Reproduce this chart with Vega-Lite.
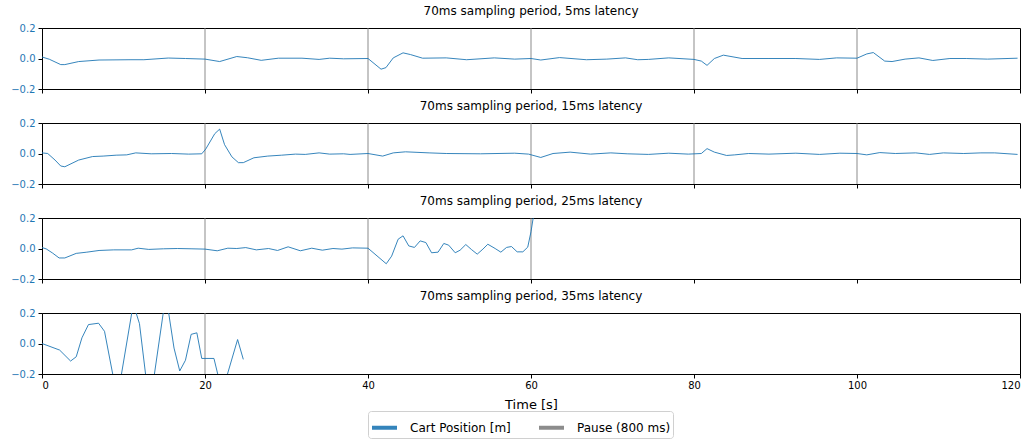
{
  "$schema": "https://vega.github.io/schema/vega-lite/v6.json",
  "padding": {"left": 10, "top": 4, "right": 13, "bottom": 0},
  "datasets": {
    "pos": [
      {"lat": "5ms", "t": 0, "y": 0.01}, {"lat": "5ms", "t": 0.9, "y": -0.005}, {"lat": "5ms", "t": 2.3, "y": -0.04}, {"lat": "5ms", "t": 2.8, "y": -0.04},
      {"lat": "5ms", "t": 4.5, "y": -0.02}, {"lat": "5ms", "t": 7, "y": -0.01}, {"lat": "5ms", "t": 10.8, "y": -0.008}, {"lat": "5ms", "t": 12.5, "y": -0.008},
      {"lat": "5ms", "t": 15.5, "y": 0.003}, {"lat": "5ms", "t": 17.6, "y": 0}, {"lat": "5ms", "t": 20, "y": -0.004}, {"lat": "5ms", "t": 21.8, "y": -0.02},
      {"lat": "5ms", "t": 23.9, "y": 0.013}, {"lat": "5ms", "t": 25.2, "y": 0.005}, {"lat": "5ms", "t": 26.9, "y": -0.012}, {"lat": "5ms", "t": 29, "y": 0.002},
      {"lat": "5ms", "t": 31.9, "y": 0.002}, {"lat": "5ms", "t": 34, "y": -0.006}, {"lat": "5ms", "t": 35.3, "y": 0.002}, {"lat": "5ms", "t": 37, "y": -0.002},
      {"lat": "5ms", "t": 40, "y": 0}, {"lat": "5ms", "t": 41.6, "y": -0.07}, {"lat": "5ms", "t": 42.2, "y": -0.06}, {"lat": "5ms", "t": 43.1, "y": 0.004},
      {"lat": "5ms", "t": 44.3, "y": 0.037}, {"lat": "5ms", "t": 45.2, "y": 0.026}, {"lat": "5ms", "t": 46.7, "y": 0.002}, {"lat": "5ms", "t": 49.6, "y": 0.004},
      {"lat": "5ms", "t": 52.1, "y": -0.008}, {"lat": "5ms", "t": 55.5, "y": 0.004}, {"lat": "5ms", "t": 58, "y": -0.004}, {"lat": "5ms", "t": 60, "y": 0},
      {"lat": "5ms", "t": 61.2, "y": -0.01}, {"lat": "5ms", "t": 63.5, "y": 0.006}, {"lat": "5ms", "t": 66.8, "y": -0.008}, {"lat": "5ms", "t": 69.3, "y": -0.004},
      {"lat": "5ms", "t": 71.6, "y": 0.004}, {"lat": "5ms", "t": 73.1, "y": -0.008}, {"lat": "5ms", "t": 74.4, "y": -0.006}, {"lat": "5ms", "t": 76.9, "y": 0.004},
      {"lat": "5ms", "t": 80, "y": -0.006}, {"lat": "5ms", "t": 80.9, "y": -0.017}, {"lat": "5ms", "t": 81.6, "y": -0.045}, {"lat": "5ms", "t": 82.5, "y": 0},
      {"lat": "5ms", "t": 83.6, "y": 0.022}, {"lat": "5ms", "t": 85.9, "y": 0}, {"lat": "5ms", "t": 89.2, "y": 0}, {"lat": "5ms", "t": 92.5, "y": 0},
      {"lat": "5ms", "t": 95.4, "y": -0.006}, {"lat": "5ms", "t": 97.5, "y": 0.004}, {"lat": "5ms", "t": 100, "y": 0.002}, {"lat": "5ms", "t": 101.2, "y": 0.03},
      {"lat": "5ms", "t": 102, "y": 0.039}, {"lat": "5ms", "t": 103.4, "y": -0.017}, {"lat": "5ms", "t": 104.3, "y": -0.02}, {"lat": "5ms", "t": 105.9, "y": -0.004},
      {"lat": "5ms", "t": 107.6, "y": 0.004}, {"lat": "5ms", "t": 109.3, "y": -0.013}, {"lat": "5ms", "t": 111.4, "y": 0}, {"lat": "5ms", "t": 113.4, "y": 0},
      {"lat": "5ms", "t": 116, "y": -0.004}, {"lat": "5ms", "t": 119.7, "y": 0.002},

      {"lat": "15ms", "t": 0, "y": 0.004}, {"lat": "15ms", "t": 0.7, "y": 0}, {"lat": "15ms", "t": 1.6, "y": -0.043}, {"lat": "15ms", "t": 2.3, "y": -0.082},
      {"lat": "15ms", "t": 2.8, "y": -0.087}, {"lat": "15ms", "t": 4.5, "y": -0.043}, {"lat": "15ms", "t": 6.2, "y": -0.02}, {"lat": "15ms", "t": 7.5, "y": -0.017},
      {"lat": "15ms", "t": 9.1, "y": -0.011}, {"lat": "15ms", "t": 10.4, "y": -0.009}, {"lat": "15ms", "t": 11.5, "y": 0.004}, {"lat": "15ms", "t": 13.4, "y": -0.002},
      {"lat": "15ms", "t": 15.9, "y": 0}, {"lat": "15ms", "t": 18, "y": -0.004}, {"lat": "15ms", "t": 19.6, "y": -0.002}, {"lat": "15ms", "t": 20.1, "y": 0.03},
      {"lat": "15ms", "t": 21.2, "y": 0.13}, {"lat": "15ms", "t": 21.8, "y": 0.16}, {"lat": "15ms", "t": 22.4, "y": 0.058}, {"lat": "15ms", "t": 23.3, "y": -0.022},
      {"lat": "15ms", "t": 24.1, "y": -0.06}, {"lat": "15ms", "t": 24.7, "y": -0.06}, {"lat": "15ms", "t": 26, "y": -0.028}, {"lat": "15ms", "t": 27.7, "y": -0.017},
      {"lat": "15ms", "t": 29.4, "y": -0.011}, {"lat": "15ms", "t": 31.1, "y": -0.004}, {"lat": "15ms", "t": 32.3, "y": -0.006}, {"lat": "15ms", "t": 34, "y": 0.004},
      {"lat": "15ms", "t": 35.3, "y": -0.004}, {"lat": "15ms", "t": 37, "y": -0.002}, {"lat": "15ms", "t": 37.8, "y": -0.006}, {"lat": "15ms", "t": 40, "y": 0},
      {"lat": "15ms", "t": 41.8, "y": -0.017}, {"lat": "15ms", "t": 43.1, "y": 0.004}, {"lat": "15ms", "t": 44.6, "y": 0.011}, {"lat": "15ms", "t": 47.5, "y": 0.004},
      {"lat": "15ms", "t": 49.6, "y": 0}, {"lat": "15ms", "t": 53.8, "y": -0.002}, {"lat": "15ms", "t": 58, "y": 0.002}, {"lat": "15ms", "t": 59.7, "y": -0.004},
      {"lat": "15ms", "t": 61.2, "y": -0.026}, {"lat": "15ms", "t": 62.7, "y": 0}, {"lat": "15ms", "t": 64.8, "y": 0.009}, {"lat": "15ms", "t": 67.3, "y": -0.004},
      {"lat": "15ms", "t": 69.8, "y": 0.004}, {"lat": "15ms", "t": 71.8, "y": -0.002}, {"lat": "15ms", "t": 74.4, "y": -0.006}, {"lat": "15ms", "t": 76.9, "y": 0.002},
      {"lat": "15ms", "t": 79.3, "y": -0.004}, {"lat": "15ms", "t": 80.9, "y": 0}, {"lat": "15ms", "t": 81.6, "y": 0.032}, {"lat": "15ms", "t": 82.5, "y": 0.009},
      {"lat": "15ms", "t": 84, "y": -0.013}, {"lat": "15ms", "t": 85, "y": -0.009}, {"lat": "15ms", "t": 86.7, "y": 0}, {"lat": "15ms", "t": 89.2, "y": -0.004},
      {"lat": "15ms", "t": 92.5, "y": 0.002}, {"lat": "15ms", "t": 95.4, "y": -0.006}, {"lat": "15ms", "t": 97.9, "y": 0.002}, {"lat": "15ms", "t": 100, "y": 0},
      {"lat": "15ms", "t": 101.2, "y": -0.009}, {"lat": "15ms", "t": 102.8, "y": 0.006}, {"lat": "15ms", "t": 104.7, "y": 0}, {"lat": "15ms", "t": 107.2, "y": 0.004},
      {"lat": "15ms", "t": 108.9, "y": -0.006}, {"lat": "15ms", "t": 110.6, "y": 0.004}, {"lat": "15ms", "t": 113.1, "y": 0}, {"lat": "15ms", "t": 115.2, "y": 0.004},
      {"lat": "15ms", "t": 116.9, "y": 0.004}, {"lat": "15ms", "t": 119.7, "y": -0.006},

      {"lat": "25ms", "t": 0, "y": 0.006}, {"lat": "25ms", "t": 0.5, "y": -0.002}, {"lat": "25ms", "t": 1.3, "y": -0.03}, {"lat": "25ms", "t": 2.1, "y": -0.062},
      {"lat": "25ms", "t": 2.8, "y": -0.062}, {"lat": "25ms", "t": 4.2, "y": -0.032}, {"lat": "25ms", "t": 5.5, "y": -0.024}, {"lat": "25ms", "t": 7, "y": -0.013},
      {"lat": "25ms", "t": 8.8, "y": -0.009}, {"lat": "25ms", "t": 11, "y": -0.009}, {"lat": "25ms", "t": 11.8, "y": 0.002}, {"lat": "25ms", "t": 13.1, "y": -0.006},
      {"lat": "25ms", "t": 14.9, "y": -0.002}, {"lat": "25ms", "t": 16.6, "y": 0}, {"lat": "25ms", "t": 18.4, "y": -0.002}, {"lat": "25ms", "t": 20, "y": -0.004},
      {"lat": "25ms", "t": 21.5, "y": -0.015}, {"lat": "25ms", "t": 22.8, "y": 0.002}, {"lat": "25ms", "t": 23.9, "y": 0}, {"lat": "25ms", "t": 25, "y": 0.006},
      {"lat": "25ms", "t": 26.3, "y": -0.009}, {"lat": "25ms", "t": 27.8, "y": 0}, {"lat": "25ms", "t": 28.9, "y": -0.013}, {"lat": "25ms", "t": 30.2, "y": 0.011},
      {"lat": "25ms", "t": 31.7, "y": -0.015}, {"lat": "25ms", "t": 33.1, "y": 0.002}, {"lat": "25ms", "t": 34.4, "y": -0.011}, {"lat": "25ms", "t": 35.7, "y": 0},
      {"lat": "25ms", "t": 36.8, "y": -0.004}, {"lat": "25ms", "t": 38.1, "y": 0.004}, {"lat": "25ms", "t": 40, "y": 0.002}, {"lat": "25ms", "t": 42.24, "y": -0.1},
      {"lat": "25ms", "t": 42.9, "y": -0.05}, {"lat": "25ms", "t": 43.7, "y": 0.061}, {"lat": "25ms", "t": 44.3, "y": 0.083}, {"lat": "25ms", "t": 45.0, "y": 0.017},
      {"lat": "25ms", "t": 45.7, "y": 0.007}, {"lat": "25ms", "t": 46.4, "y": 0.05}, {"lat": "25ms", "t": 47.1, "y": 0.039}, {"lat": "25ms", "t": 47.8, "y": -0.028},
      {"lat": "25ms", "t": 48.6, "y": -0.024}, {"lat": "25ms", "t": 49.3, "y": 0.033}, {"lat": "25ms", "t": 49.9, "y": 0.022}, {"lat": "25ms", "t": 50.7, "y": -0.028},
      {"lat": "25ms", "t": 51.3, "y": -0.011}, {"lat": "25ms", "t": 52, "y": 0.026}, {"lat": "25ms", "t": 52.7, "y": -0.007}, {"lat": "25ms", "t": 53.4, "y": -0.037},
      {"lat": "25ms", "t": 54.1, "y": -0.004}, {"lat": "25ms", "t": 54.7, "y": 0.028}, {"lat": "25ms", "t": 55.6, "y": 0}, {"lat": "25ms", "t": 56.3, "y": -0.024},
      {"lat": "25ms", "t": 57, "y": 0.007}, {"lat": "25ms", "t": 57.6, "y": 0.013}, {"lat": "25ms", "t": 58.3, "y": -0.022}, {"lat": "25ms", "t": 59, "y": -0.022},
      {"lat": "25ms", "t": 59.6, "y": 0.009}, {"lat": "25ms", "t": 60, "y": 0.11}, {"lat": "25ms", "t": 60.8, "y": 0.38},

      {"lat": "35ms", "t": 0, "y": 0}, {"lat": "35ms", "t": 2.16, "y": -0.043}, {"lat": "35ms", "t": 3.51, "y": -0.115}, {"lat": "35ms", "t": 4.2, "y": -0.087},
      {"lat": "35ms", "t": 4.9, "y": 0.037}, {"lat": "35ms", "t": 5.7, "y": 0.124}, {"lat": "35ms", "t": 6.94, "y": 0.133}, {"lat": "35ms", "t": 7.67, "y": 0.08},
      {"lat": "35ms", "t": 9.25, "y": -0.36}, {"lat": "35ms", "t": 11.2, "y": 0.26}, {"lat": "35ms", "t": 11.96, "y": 0.13}, {"lat": "35ms", "t": 13.2, "y": -0.42},
      {"lat": "35ms", "t": 15.2, "y": 0.32}, {"lat": "35ms", "t": 16.2, "y": -0.03}, {"lat": "35ms", "t": 16.9, "y": -0.18}, {"lat": "35ms", "t": 17.6, "y": -0.11},
      {"lat": "35ms", "t": 18.3, "y": 0.06}, {"lat": "35ms", "t": 19.0, "y": 0.07}, {"lat": "35ms", "t": 19.6, "y": -0.098}, {"lat": "35ms", "t": 21.1, "y": -0.098},
      {"lat": "35ms", "t": 22.1, "y": -0.32}, {"lat": "35ms", "t": 24.0, "y": 0.026}, {"lat": "35ms", "t": 24.7, "y": -0.104}
    ],
    "pauses": [
      {"lat": "5ms", "t": 20}, {"lat": "5ms", "t": 40}, {"lat": "5ms", "t": 60}, {"lat": "5ms", "t": 80}, {"lat": "5ms", "t": 100},
      {"lat": "15ms", "t": 20}, {"lat": "15ms", "t": 40}, {"lat": "15ms", "t": 60}, {"lat": "15ms", "t": 80}, {"lat": "15ms", "t": 100},
      {"lat": "25ms", "t": 20}, {"lat": "25ms", "t": 40}, {"lat": "25ms", "t": 60},
      {"lat": "35ms", "t": 20}
    ]
  },
  "config": {
    "font": "DejaVu Sans",
    "view": {"stroke": "black", "strokeWidth": 1},
    "title": {"fontSize": 12, "fontWeight": "normal", "color": "black", "offset": 5, "anchor": "middle"},
    "axis": {"grid": false, "domainColor": "black", "tickColor": "black", "tickSize": 4, "labelFontSize": 10, "labelColor": "black", "labelPadding": 3},
    "concat": {"spacing": 4}
  },
  "vconcat": [
    {
      "title": "70ms sampling period, 5ms latency",
      "width": 978, "height": 61,
      "layer": [
        {
          "data": {"name": "pauses"},
          "transform": [{"filter": "datum.lat === '5ms'"}],
          "mark": {"type": "rule", "strokeWidth": 1, "opacity": 0.9},
          "encoding": {"x": {"field": "t", "type": "quantitative"}, "color": {"datum": "Pause (800 ms)"}}
        },
        {
          "data": {"name": "pos"},
          "transform": [{"filter": "datum.lat === '5ms'"}],
          "mark": {"type": "line", "strokeWidth": 0.9, "clip": true},
          "encoding": {
            "x": {"field": "t", "type": "quantitative", "scale": {"domain": [0, 120], "nice": false}, "axis": {"values": [0, 20, 40, 60, 80, 100, 120], "labels": false, "title": null}},
            "y": {"field": "y", "type": "quantitative", "scale": {"domain": [-0.2, 0.2], "nice": false}, "axis": {"values": [-0.2, 0, 0.2], "format": ".1f", "labelColor": "#1f77b4", "title": null}},
            "color": {"datum": "Cart Position [m]"}
          }
        }
      ]
    },
    {
      "title": "70ms sampling period, 15ms latency",
      "width": 978, "height": 61,
      "layer": [
        {
          "data": {"name": "pauses"},
          "transform": [{"filter": "datum.lat === '15ms'"}],
          "mark": {"type": "rule", "strokeWidth": 1, "opacity": 0.9},
          "encoding": {"x": {"field": "t", "type": "quantitative"}, "color": {"datum": "Pause (800 ms)"}}
        },
        {
          "data": {"name": "pos"},
          "transform": [{"filter": "datum.lat === '15ms'"}],
          "mark": {"type": "line", "strokeWidth": 0.9, "clip": true},
          "encoding": {
            "x": {"field": "t", "type": "quantitative", "scale": {"domain": [0, 120], "nice": false}, "axis": {"values": [0, 20, 40, 60, 80, 100, 120], "labels": false, "title": null}},
            "y": {"field": "y", "type": "quantitative", "scale": {"domain": [-0.2, 0.2], "nice": false}, "axis": {"values": [-0.2, 0, 0.2], "format": ".1f", "labelColor": "#1f77b4", "title": null}},
            "color": {"datum": "Cart Position [m]"}
          }
        }
      ]
    },
    {
      "title": "70ms sampling period, 25ms latency",
      "width": 978, "height": 61,
      "layer": [
        {
          "data": {"name": "pauses"},
          "transform": [{"filter": "datum.lat === '25ms'"}],
          "mark": {"type": "rule", "strokeWidth": 1, "opacity": 0.9},
          "encoding": {"x": {"field": "t", "type": "quantitative"}, "color": {"datum": "Pause (800 ms)"}}
        },
        {
          "data": {"name": "pos"},
          "transform": [{"filter": "datum.lat === '25ms'"}],
          "mark": {"type": "line", "strokeWidth": 0.9, "clip": true},
          "encoding": {
            "x": {"field": "t", "type": "quantitative", "scale": {"domain": [0, 120], "nice": false}, "axis": {"values": [0, 20, 40, 60, 80, 100, 120], "labels": false, "title": null}},
            "y": {"field": "y", "type": "quantitative", "scale": {"domain": [-0.2, 0.2], "nice": false}, "axis": {"values": [-0.2, 0, 0.2], "format": ".1f", "labelColor": "#1f77b4", "title": null}},
            "color": {"datum": "Cart Position [m]"}
          }
        }
      ]
    },
    {
      "title": "70ms sampling period, 35ms latency",
      "width": 978, "height": 61,
      "layer": [
        {
          "data": {"name": "pauses"},
          "transform": [{"filter": "datum.lat === '35ms'"}],
          "mark": {"type": "rule", "strokeWidth": 1, "opacity": 0.9},
          "encoding": {"x": {"field": "t", "type": "quantitative"}, "color": {"datum": "Pause (800 ms)"}}
        },
        {
          "data": {"name": "pos"},
          "transform": [{"filter": "datum.lat === '35ms'"}],
          "mark": {"type": "line", "strokeWidth": 0.9, "clip": true},
          "encoding": {
            "x": {"field": "t", "type": "quantitative", "scale": {"domain": [0, 120], "nice": false}, "axis": {"values": [0, 20, 40, 60, 80, 100, 120], "labelPadding": 2, "title": "Time [s]", "titleFontSize": 13, "titleFontWeight": "normal", "titlePadding": 8}},
            "y": {"field": "y", "type": "quantitative", "scale": {"domain": [-0.2, 0.2], "nice": false}, "axis": {"values": [-0.2, 0, 0.2], "format": ".1f", "labelColor": "#1f77b4", "title": null}},
            "color": {
              "datum": "Cart Position [m]",
              "scale": {"domain": ["Cart Position [m]", "Pause (800 ms)"], "range": ["#1f77b4", "#808080"]},
              "legend": {
                "title": null, "orient": "none", "direction": "horizontal", "legendX": 326, "legendY": 383,
                "symbolType": "stroke", "symbolStrokeWidth": 4, "symbolSize": 625, "symbolOpacity": 1,
                "labelFontSize": 12, "labelColor": "black", "labelOffset": 11, "columnPadding": 20, "symbolOffset": 0,
                "strokeColor": "#d0d0d0", "fillColor": "white", "cornerRadius": 3, "padding": 2
              }
            }
          }
        }
      ]
    }
  ]
}
